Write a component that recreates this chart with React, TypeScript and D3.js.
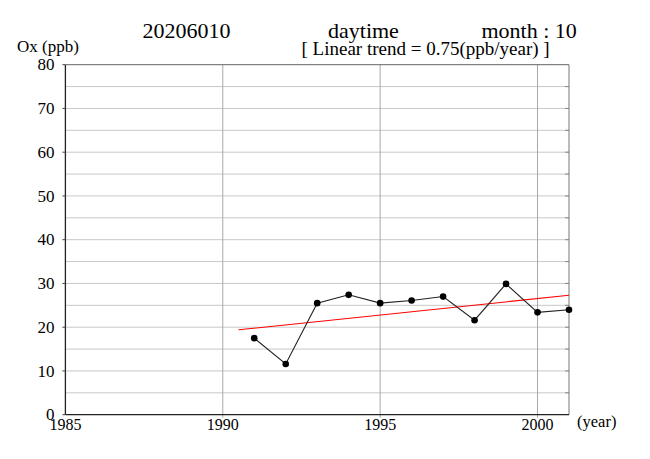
import React from "react";
import * as d3 from "d3";

const years = [1991, 1992, 1993, 1994, 1995, 1996, 1997, 1998, 1999, 2000, 2001];
const oxValues = [17.5, 11.6, 25.5, 27.4, 25.5, 26.1, 27.0, 21.6, 29.9, 23.4, 24.0];
const trendYears = [1990.5, 2001];
const trendValues = [19.4, 27.3];
const xTicks = [1985, 1990, 1995, 2000];
const yTicks = [0, 10, 20, 30, 40, 50, 60, 70, 80];
const yGrid = d3.range(5, 80, 5);
const titleStation = "20206010";
const titlePeriod = "daytime";
const titleMonth = "month : 10";
const trendLabel = "[ Linear trend = 0.75(ppb/year) ]";

const W = 650;
const H = 459;
const left = 65.4;
const right = 569;
const top = 64.7;
const bottom = 414.7;
const font = "'Liberation Serif', 'Times New Roman', serif";

export default function App() {
  const x = d3.scaleLinear().domain([1985, 2001]).range([left, right]);
  const y = d3.scaleLinear().domain([0, 80]).range([bottom, top]);
  const line = d3
    .line<number>()
    .x((_, i) => x(years[i]))
    .y((d) => y(d));
  const trend = d3
    .line<number>()
    .x((_, i) => x(trendYears[i]))
    .y((d) => y(d));

  return (
    <svg
      width={W}
      height={H}
      style={{ position: "absolute", left: 0, top: 0, background: "#fff" }}
      fontFamily={font}
    >
      <rect x={0} y={0} width={W} height={H} fill="#fff" />
      {yGrid.map((v) => (
        <line key={"hg" + v} x1={left} x2={right} y1={y(v)} y2={y(v)} stroke="#c8c8c8" strokeWidth={1} />
      ))}
      {yGrid.map((v) => (
        <line key={"rt" + v} x1={right - 4} x2={right} y1={y(v)} y2={y(v)} stroke="#888" strokeWidth={1} />
      ))}
      {xTicks.slice(1).map((v) => (
        <line key={"vg" + v} x1={x(v)} x2={x(v)} y1={top} y2={bottom + 3} stroke="#a8a8a8" strokeWidth={1} />
      ))}
      <line x1={left} x2={right} y1={top} y2={top} stroke="#666" strokeWidth={1} />
      <line x1={right} x2={right} y1={top} y2={bottom} stroke="#777" strokeWidth={1} />
      <line x1={left} x2={left} y1={top} y2={bottom} stroke="#222" strokeWidth={1.3} />
      <line x1={left} x2={right} y1={bottom} y2={bottom} stroke="#222" strokeWidth={1.3} />
      {yTicks.map((v) => (
        <g key={"yt" + v}>
          <line x1={left - 3} x2={left} y1={y(v)} y2={y(v)} stroke="#444" />
          <text
            x={left - 11}
            y={y(v)}
            dy="0.33em"
            textAnchor="end"
            fontSize={17}
            fill="#000"
          >
            {v}
          </text>
        </g>
      ))}
      {xTicks.map((v) => (
        <text key={"xt" + v} x={x(v)} y={430} textAnchor="middle" fontSize={16} fill="#000">
          {v}
        </text>
      ))}
      <text x={577} y={427} fontSize={16.5} fill="#000">(year)</text>
      <text x={17} y={52} fontSize={17} fill="#000">Ox (ppb)</text>
      <text x={142.5} y={37.7} fontSize={22} fill="#000">{titleStation}</text>
      <text x={328} y={37.7} fontSize={22} fill="#000">{titlePeriod}</text>
      <text x={481.5} y={37.7} fontSize={22} fill="#000">{titleMonth}</text>
      <text x={301.5} y={55} fontSize={19} fill="#000">{trendLabel}</text>
      <path d={trend(trendValues) || ""} fill="none" stroke="#ff0000" strokeWidth={1.1} />
      <path d={line(oxValues) || ""} fill="none" stroke="#222" strokeWidth={1.1} />
      {oxValues.map((v, i) => (
        <circle key={"p" + i} cx={x(years[i])} cy={y(v)} r={3.3} fill="#000" />
      ))}
    </svg>
  );
}
